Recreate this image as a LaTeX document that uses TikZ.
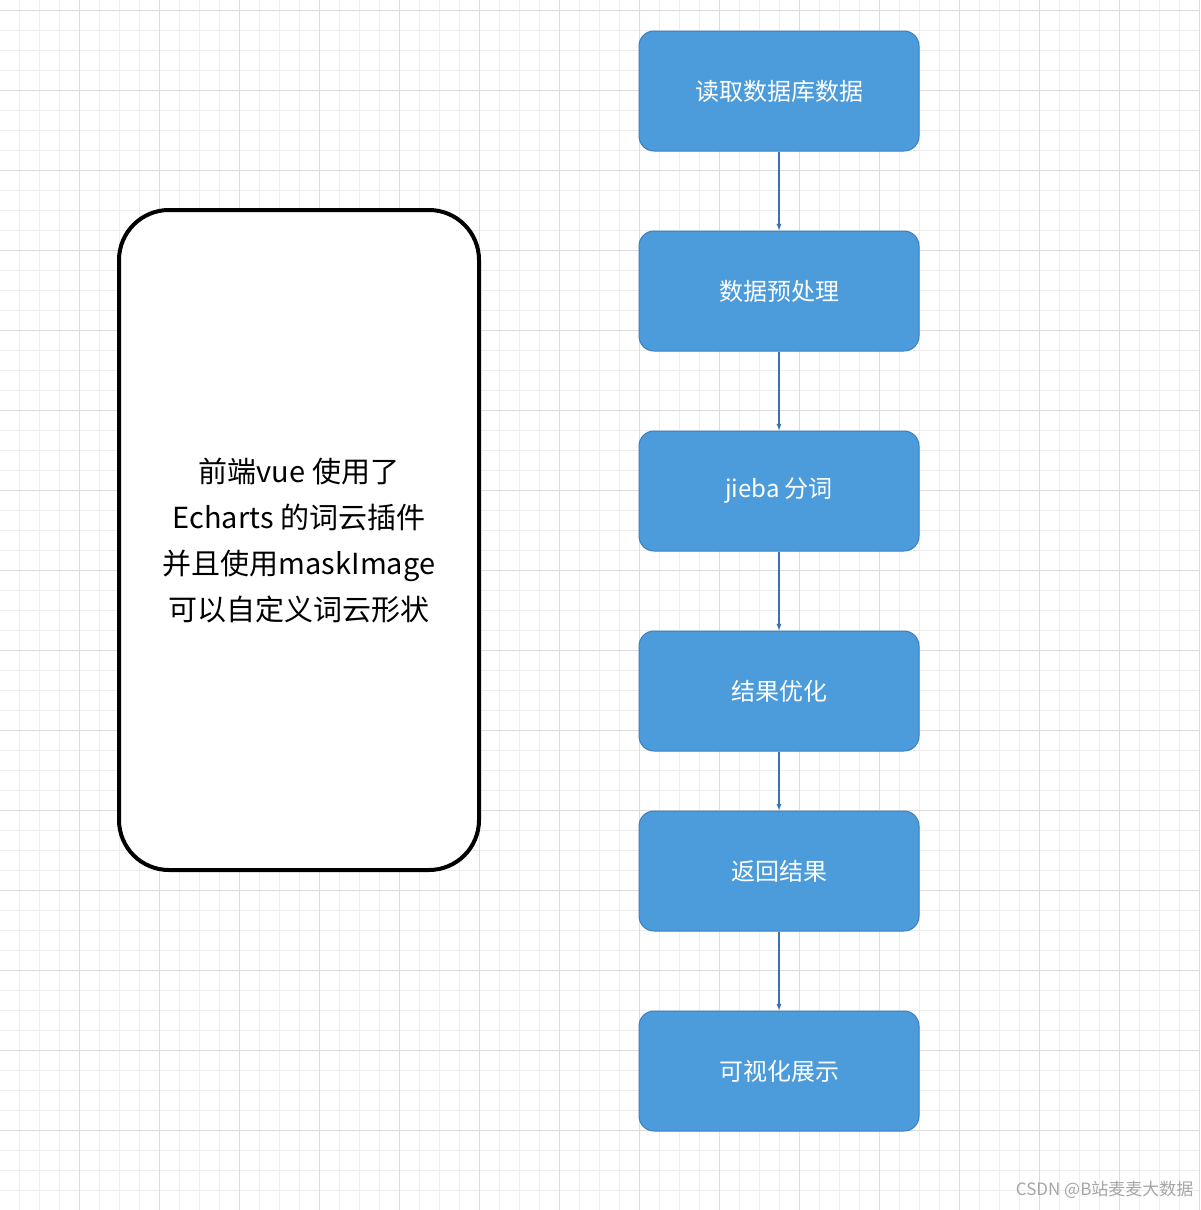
\documentclass[tikz,border=0pt]{standalone}
\usepackage{fontspec}
\setmainfont{Noto Sans CJK SC}
\usetikzlibrary{positioning}
\definecolor{stepblue}{HTML}{4C9CDC}
\definecolor{stepedge}{HTML}{3C7FC0}
\definecolor{arrowblue}{HTML}{3A72B0}
\definecolor{gridminor}{HTML}{EDEDED}
\definecolor{gridmajor}{HTML}{DCDCDC}
\tikzset{
  stepbox/.style={rectangle, rounded corners=15pt, draw=stepedge, fill=stepblue, line width=1pt,
    minimum width=280pt, minimum height=120pt, text=white, font=\fontsize{24}{28}\selectfont},
  line/.style={draw=arrowblue, line width=1.3pt, -latex}
}
\begin{document}
\begin{tikzpicture}[x=1pt, y=-1pt]
\useasboundingbox (0,0) rectangle (1200,1210);
\fill[white] (0,0) rectangle (1200,1210);
\foreach \i in {0,...,60} {
  \draw[gridminor, line width=1pt] (\i*20-1,0) -- (\i*20-1,1210);
  \draw[gridminor, line width=1pt] (0,\i*20+10) -- (1200,\i*20+10);
}
\foreach \i in {0,...,15} {
  \draw[gridmajor, line width=1pt] (\i*80-1,0) -- (\i*80-1,1210);
  \draw[gridmajor, line width=1pt] (0,\i*80+10) -- (1200,\i*80+10);
}
\node [stepbox] (read) at (779,91) {读取数据库数据};
\node [stepbox] (prep) at (779,291) {数据预处理};
\node [stepbox] (cut) at (779,491) {jieba 分词};
\node [stepbox] (opt) at (779,691) {结果优化};
\node [stepbox] (ret) at (779,871) {返回结果};
\node [stepbox] (show) at (779,1071) {可视化展示};
\node [rectangle, rounded corners=50pt, draw=black, line width=4pt, fill=white,
  minimum width=360pt, minimum height=660pt, align=center,
  font=\fontsize{29}{46}\selectfont] (front) at (299,540)
  {前端vue 使用了\\Echarts 的词云插件\\并且使用maskImage\\可以自定义词云形状};

\path [line] (read) -- (prep);
\path [line] (prep) -- (cut);
\path [line] (cut) -- (opt);
\path [line] (opt) -- (ret);
\path [line] (ret) -- (show);

\node [anchor=east, text=gray!70, font=\fontsize{17}{20}\selectfont] (mark) at (1197,1190) {CSDN @B站麦麦大数据};
\end{tikzpicture}
\end{document}
